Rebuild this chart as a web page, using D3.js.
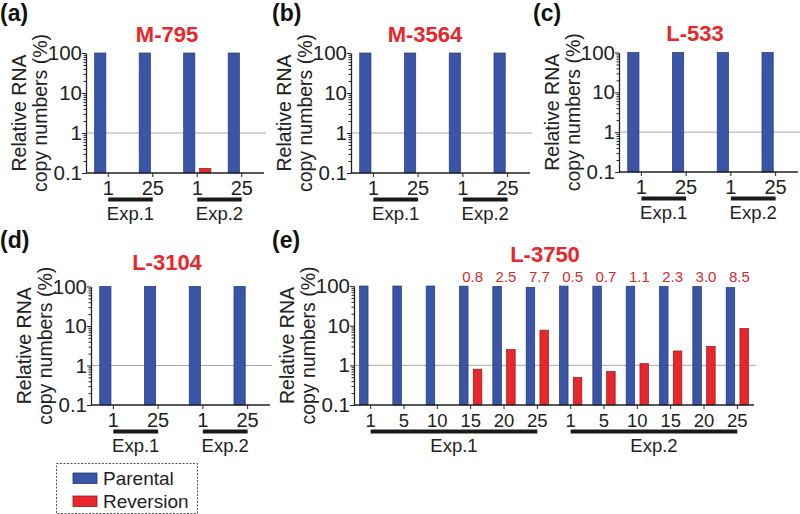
<!DOCTYPE html>
<html>
<head>
<meta charset="utf-8">
<script src="https://cdn.jsdelivr.net/npm/d3@7"></script>
<style>
  html, body { margin: 0; padding: 0; background: #fff; }
  svg { display: block; font-family: "Liberation Sans", Arial, sans-serif; }
</style>
</head>
<body>
<svg id="chart" width="800" height="514"></svg>
<script>
// ---------- DATA ----------
const seriesNames = ["Parental", "Reversion"];
const yTickValues = [0.1, 1, 10, 100];
const yTickLabels = ["0.1", "1", "10", "100"];
const experimentNames = ["Exp.1", "Exp.2"];

const panelLetters = ["(a)", "(b)", "(c)", "(d)", "(e)"];
const panelTitles = ["M-795", "M-3564", "L-533", "L-3104", "L-3750"];

const smallCategories = ["1", "25", "1", "25"];
const smallExperiments = ["Exp.1", "Exp.1", "Exp.2", "Exp.2"];

const parentalA = [100, 100, 100, 100];
const reversionA = [null, null, 0.13, null];
const parentalB = [100, 100, 100, 100];
const reversionB = [null, null, null, null];
const parentalC = [100, 100, 100, 100];
const reversionC = [null, null, null, null];
const parentalD = [100, 100, 100, 100];
const reversionD = [null, null, null, null];

const categoriesE = ["1", "5", "10", "15", "20", "25", "1", "5", "10", "15", "20", "25"];
const experimentsE = ["Exp.1", "Exp.1", "Exp.1", "Exp.1", "Exp.1", "Exp.1",
                      "Exp.2", "Exp.2", "Exp.2", "Exp.2", "Exp.2", "Exp.2"];
const parentalE = [100, 100, 100, 99.2, 97.5, 92.3, 99.5, 99.3, 98.9, 97.7, 97.0, 91.5];
const reversionE = [null, null, null, 0.8, 2.5, 7.7, 0.5, 0.7, 1.1, 2.3, 3.0, 8.5];

// ---------- STYLE / LAYOUT ----------
const COLORS = { Parental: "#3a55a6", Reversion: "#e8262b" };
const STROKES = { Parental: "#24367a", Reversion: "#8e1a1c" };
const TITLE_RED = "#e8262b";
const FONT = 19.5;

const svg = d3.select("#chart");

const layouts = [
  { left: 86,  right: 264, top: 53,  bottom: 173, titleX: 167, titleY: 42,  letterX: 0,   letterY: 21,  pad: 0.39, subPad: 0.3, tickFont: 20 },
  { left: 351, right: 530, top: 53,  bottom: 173, titleX: 425, titleY: 42,  letterX: 272, letterY: 21,  pad: 0.39, subPad: 0.3, tickFont: 20 },
  { left: 619, right: 798, top: 52.5,bottom: 172, titleX: 695, titleY: 41,  letterX: 533, letterY: 21,  pad: 0.39, subPad: 0.3, tickFont: 20 },
  { left: 91,  right: 270, top: 286.5,bottom: 405,titleX: 167, titleY: 270, letterX: 0,   letterY: 248, pad: 0.39, subPad: 0.3, tickFont: 20 },
  { left: 354, right: 754, top: 286, bottom: 405, titleX: 545, titleY: 262, letterX: 272, letterY: 248, pad: 0.33, subPad: 0.38, tickFont: 18.5 }
];

function drawPanel(idx, cats, exps, parental, reversion) {
  const L = layouts[idx];
  const g = svg.append("g");
  const n = cats.length;

  const x = d3.scaleBand().domain(d3.range(n)).range([L.left, L.right])
    .paddingInner(L.pad).paddingOuter(L.pad / 2);
  const xs = d3.scaleBand().domain(seriesNames).range([0, x.bandwidth()]).paddingInner(L.subPad);
  const y = d3.scaleLog().domain([0.1, 100]).range([L.bottom, L.top]);
  const cx = i => x(i) + x.bandwidth() / 2;

  // panel letter & title
  g.append("text").attr("x", L.letterX).attr("y", L.letterY)
    .attr("font-size", 23).attr("font-weight", "bold").attr("fill", "#111")
    .text(panelLetters[idx]);
  g.append("text").attr("x", L.titleX).attr("y", L.titleY)
    .attr("text-anchor", "middle").attr("font-size", 22).attr("font-weight", "bold")
    .attr("fill", TITLE_RED).text(panelTitles[idx]);

  // gridline at 1
  g.append("line").attr("x1", L.left).attr("x2", L.right + 2)
    .attr("y1", y(1)).attr("y2", y(1)).attr("stroke", "#a8a8a8").attr("stroke-width", 1);

  // bars
  const rows = [];
  cats.forEach((c, i) => {
    rows.push({ i, s: "Parental", v: parental[i] });
    rows.push({ i, s: "Reversion", v: reversion[i] });
  });
  g.selectAll("rect.bar").data(rows.filter(d => d.v != null)).join("rect")
    .attr("class", "bar")
    .attr("x", d => x(d.i) + xs(d.s))
    .attr("width", xs.bandwidth())
    .attr("y", d => y(d.v))
    .attr("height", d => y(0.1) - y(d.v))
    .attr("fill", d => COLORS[d.s])
    .attr("stroke", d => STROKES[d.s])
    .attr("stroke-width", 0.7);

  // y axis (major)
  const yAxis = d3.axisLeft(y).tickValues(yTickValues)
    .tickFormat((d, k) => yTickLabels[k]).tickSize(4).tickSizeOuter(0).tickPadding(0);
  const ya = g.append("g").attr("transform", `translate(${L.left},0)`).call(yAxis);
  ya.selectAll("text").attr("font-size", 20.5).attr("fill", "#222")
    .attr("font-family", '"Liberation Sans", Arial, sans-serif');
  ya.selectAll("line").attr("stroke", "#222");
  ya.select(".domain").attr("stroke", "#222").attr("stroke-width", 1.3);

  // y axis minor ticks
  const minor = y.ticks().filter(v => !yTickValues.includes(v));
  const ym = g.append("g").attr("transform", `translate(${L.left},0)`)
    .call(d3.axisLeft(y).tickValues(minor).tickFormat("").tickSize(2.5).tickSizeOuter(0));
  ym.select(".domain").remove();
  ym.selectAll("line").attr("stroke", "#222");

  // x axis
  const xAxisY = y(0.1);
  g.append("line").attr("x1", L.left).attr("x2", L.right)
    .attr("y1", xAxisY).attr("y2", xAxisY).attr("stroke", "#222").attr("stroke-width", 1.3);
  g.selectAll("line.xt").data(cats).join("line").attr("class", "xt")
    .attr("x1", (d, i) => cx(i)).attr("x2", (d, i) => cx(i))
    .attr("y1", xAxisY).attr("y2", xAxisY + 4).attr("stroke", "#222");
  g.selectAll("text.xl").data(cats).join("text").attr("class", "xl")
    .attr("x", (d, i) => cx(i)).attr("y", xAxisY + 21.5)
    .attr("text-anchor", "middle").attr("font-size", L.tickFont).attr("fill", "#222")
    .text(d => d);

  // experiment bars and labels
  experimentNames.forEach(e => {
    const idxs = d3.range(n).filter(i => exps[i] === e);
    const x1 = cx(idxs[0]), x2 = cx(idxs[idxs.length - 1]);
    g.append("line").attr("x1", x1).attr("x2", x2)
      .attr("y1", xAxisY + 26.5).attr("y2", xAxisY + 26.5)
      .attr("stroke", "#1a1a1a").attr("stroke-width", 4);
    g.append("text").attr("x", (x1 + x2) / 2).attr("y", xAxisY + 46.5)
      .attr("text-anchor", "middle").attr("font-size", 18.5).attr("fill", "#222").text(e);
  });

  // y label
  const yc = (L.top + L.bottom) / 2;
  [["Relative RNA", -60], ["copy numbers (%)", -39]].forEach(([t, off]) => {
    g.append("text").attr("transform", `translate(${L.left + off},${yc}) rotate(-90)`)
      .attr("text-anchor", "middle").attr("font-size", FONT).attr("fill", "#222").text(t);
  });

  return { x, cx, g };
}

drawPanel(0, smallCategories, smallExperiments, parentalA, reversionA);
drawPanel(1, smallCategories, smallExperiments, parentalB, reversionB);
drawPanel(2, smallCategories, smallExperiments, parentalC, reversionC);
drawPanel(3, smallCategories, smallExperiments, parentalD, reversionD);
const pe = drawPanel(4, categoriesE, experimentsE, parentalE, reversionE);

// value labels for (e)
const fmt = d3.format(".1f");
pe.g.selectAll("text.val").data(reversionE.map((v, i) => ({ v, i })).filter(d => d.v != null))
  .join("text").attr("class", "val")
  .attr("x", d => pe.cx(d.i) + 2).attr("y", 282)
  .attr("text-anchor", "middle").attr("font-size", 15).attr("fill", "#d8282c")
  .text(d => fmt(d.v));

// legend
const lg = svg.append("g");
lg.append("rect").attr("x", 56.5).attr("y", 463.5).attr("width", 141).attr("height", 50)
  .attr("fill", "none").attr("stroke", "#555").attr("stroke-dasharray", "2,1.5").attr("stroke-width", 1);
seriesNames.forEach((s, k) => {
  const yy = 473 + k * 23;
  lg.append("rect").attr("x", 73).attr("y", yy).attr("width", 24).attr("height", 10.5)
    .attr("fill", COLORS[s]).attr("stroke", STROKES[s]).attr("stroke-width", 0.8);
  lg.append("text").attr("x", 103).attr("y", yy + 12).attr("font-size", 19).attr("fill", "#222").text(s);
});
</script>
</body>
</html>
